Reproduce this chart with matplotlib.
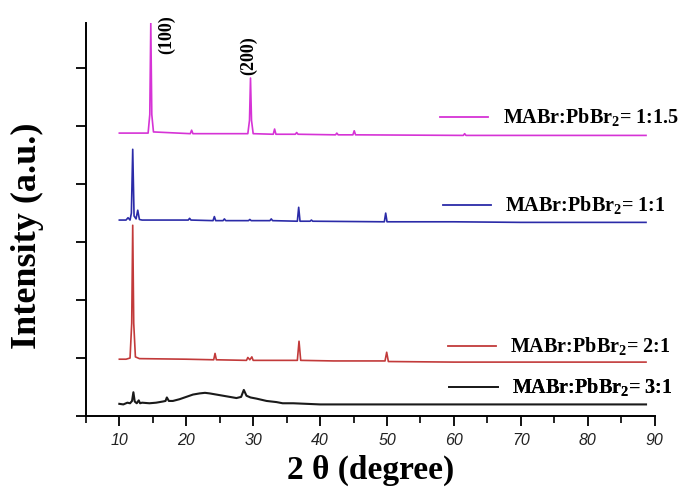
import matplotlib
matplotlib.use('Agg')
import matplotlib.pyplot as plt
from matplotlib.lines import Line2D
from matplotlib.ticker import MultipleLocator, NullFormatter

plt.rcParams['mathtext.fontset'] = 'custom'
plt.rcParams['mathtext.rm'] = 'Liberation Serif:bold'
plt.rcParams['mathtext.bf'] = 'Liberation Serif:bold'

# XRD traces, points (2theta, offset intensity)
black_x = [10.0, 10.6, 11.2, 11.6, 11.9, 12.1, 12.3, 12.6, 12.9, 13.1, 13.4, 14.5, 15.5, 16.5, 16.9,
           17.1, 17.4, 18.0, 19.0, 20.0, 21.0, 22.0, 22.8, 23.5, 24.5, 25.5, 26.5, 27.5, 28.2,
           28.6, 29.0, 29.6, 30.5, 32.0, 33.5, 34.4, 36.0, 38.0, 40.0, 45.0, 50.0, 55.0, 60.0,
           65.0, 70.0, 75.0, 80.0, 85.0, 88.7]
black_y = [0.21, 0.20, 0.23, 0.22, 0.26, 0.41, 0.25, 0.22, 0.27, 0.22, 0.23, 0.22, 0.23, 0.25, 0.26,
           0.32, 0.26, 0.26, 0.29, 0.33, 0.37, 0.39, 0.40, 0.39, 0.37, 0.35, 0.33, 0.31, 0.33,
           0.45, 0.35, 0.32, 0.30, 0.26, 0.24, 0.22, 0.22, 0.21, 0.20, 0.20, 0.20, 0.20, 0.20,
           0.20, 0.20, 0.20, 0.20, 0.20, 0.20]

red_x = [10.0, 11.0, 11.6, 11.85, 12.0, 12.15, 12.4, 13.0, 20.0, 24.1, 24.3, 24.5, 29.0,
         29.2, 29.5, 29.8, 30.0, 36.6, 36.85, 37.1, 42.0, 49.7, 49.95, 50.2, 60.0, 70.0, 88.7]
red_y = [0.98, 0.98, 1.00, 1.60, 3.29, 1.60, 1.02, 0.99, 0.98, 0.97, 1.08, 0.97, 0.96,
         1.01, 0.97, 1.02, 0.96, 0.96, 1.29, 0.96, 0.95, 0.95, 1.10, 0.94, 0.93, 0.93, 0.93]

blue_x = [10.0, 11.0, 11.3, 11.6, 11.8, 12.0, 12.2, 12.5, 12.75, 13.0, 13.4, 20.3, 20.5, 20.7,
          24.0, 24.2, 24.4, 25.5, 25.7, 25.9, 29.3, 29.5, 29.7, 32.5, 32.7, 32.9, 36.6, 36.8,
          37.0, 38.5, 38.7, 38.9, 49.6, 49.8, 50.0, 60.0, 70.0, 80.0, 88.7]
blue_y = [3.38, 3.38, 3.42, 3.38, 3.50, 4.60, 3.45, 3.40, 3.55, 3.39, 3.38, 3.38, 3.41, 3.38,
          3.37, 3.44, 3.37, 3.37, 3.40, 3.37, 3.37, 3.39, 3.37, 3.37, 3.40, 3.37, 3.36, 3.60,
          3.36, 3.36, 3.38, 3.36, 3.35, 3.50, 3.35, 3.35, 3.34, 3.34, 3.34]

mag_x = [10.0, 14.3, 14.55, 14.7, 14.85, 15.1, 20.6, 20.8, 21.0, 29.2, 29.45, 29.6, 29.75,
         30.0, 33.0, 33.2, 33.4, 36.3, 36.5, 36.7, 42.3, 42.5, 42.7, 44.9, 45.1, 45.3,
         61.4, 61.6, 61.8, 70.0, 80.0, 88.7]
mag_y = [4.88, 4.88, 5.20, 6.78, 5.20, 4.90, 4.87, 4.93, 4.87, 4.87, 5.10, 5.83, 5.10,
         4.87, 4.86, 4.95, 4.86, 4.86, 4.89, 4.86, 4.85, 4.88, 4.85, 4.85, 4.92, 4.85,
         4.84, 4.87, 4.84, 4.84, 4.84, 4.84]

labels = ['MABr:PbBr$_\\mathbf{2}$= 1:1.5', 'MABr:PbBr$_\\mathbf{2}$= 1:1',
          'MABr:PbBr$_\\mathbf{2}$= 2:1', 'MABr:PbBr$_\\mathbf{2}$= 3:1']
colors = ['#d633d6', '#2b2ba8', '#c23a3a', '#1a1a1a']
legend_pos = [(0.622, 0.758), (0.627, 0.534), (0.636, 0.176), (0.638, 0.071)]

fig = plt.figure(figsize=(6.87, 4.88), dpi=100)
ax = fig.add_axes([0.125, 0.1475, 0.828, 0.8055])

series = [(mag_x, mag_y), (blue_x, blue_y), (red_x, red_y), (black_x, black_y)]
widths = [1.2, 1.2, 1.2, 1.5]
for (xs, ys), c, w in zip(series, colors, widths):
    ax.plot(xs, ys, color=c, lw=w)

# one small legend per trace, placed next to it
for lab, c, pos in zip(labels, colors, legend_pos):
    h = Line2D([], [], color=c, lw=1.3)
    lg = ax.legend([h], [lab], loc='center left', bbox_to_anchor=pos, frameon=False,
                   handlelength=2.42, handletextpad=0.7, borderpad=0, borderaxespad=0,
                   prop={'family': 'Liberation Serif', 'weight': 'bold', 'size': 14.5})
    ax.add_artist(lg)

ax.text(17.1, 6.57, '(100)', rotation=90, ha='center', va='center',
        family='Liberation Serif', weight='bold', fontsize=13)
ax.text(29.3, 6.22, '(200)', rotation=90, ha='center', va='center',
        family='Liberation Serif', weight='bold', fontsize=13)

ax.set_xlim(5, 90)
ax.set_ylim(0, 6.78)
ax.spines['top'].set_visible(False)
ax.spines['right'].set_visible(False)
for s in ['left', 'bottom']:
    ax.spines[s].set_linewidth(1.4)
ax.xaxis.set_major_locator(MultipleLocator(10))
ax.xaxis.set_minor_locator(MultipleLocator(5))
ax.yaxis.set_major_locator(MultipleLocator(1))
ax.yaxis.set_major_formatter(NullFormatter())
ax.tick_params(axis='both', which='major', direction='out', length=7, width=1.3)
ax.tick_params(axis='x', which='minor', direction='out', length=5, width=1.2)
ax.tick_params(axis='x', pad=5)
for t in ax.get_xticklabels():
    t.set_family('Liberation Sans')
    t.set_style('italic')
    t.set_fontsize(11.5)
    t.set_color('#222222')

ax.set_xlabel('2 \u03b8 (degree)', family='Liberation Serif', weight='bold', fontsize=24, labelpad=5)
ax.set_ylabel('Intensity (a.u.)', family='Liberation Serif', weight='bold', fontsize=26)
ax.yaxis.set_label_coords(-0.074, 0.458)

fig.savefig('out.png', dpi=100)
